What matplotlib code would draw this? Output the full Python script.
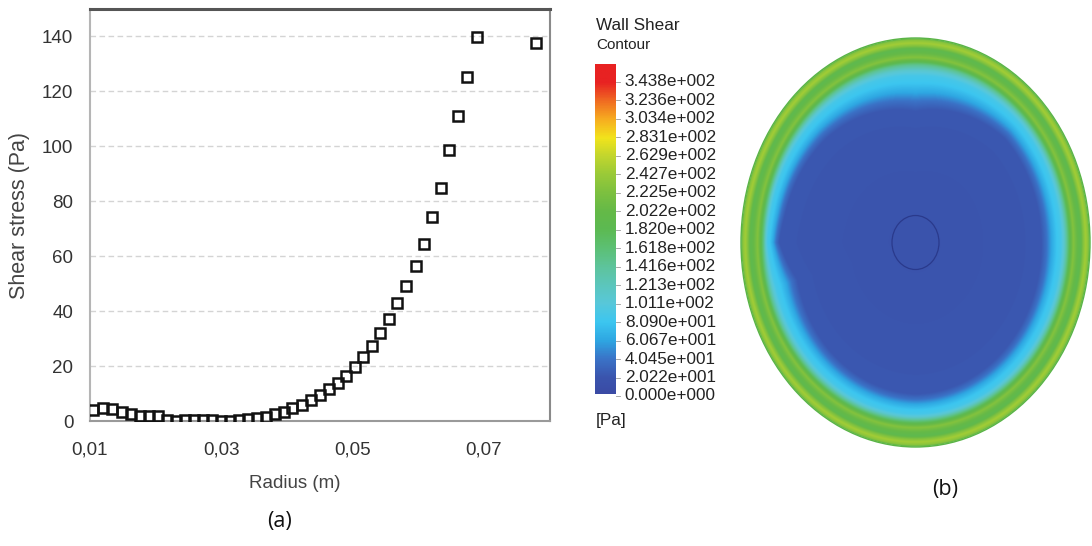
import numpy as np
import matplotlib
matplotlib.use("Agg")
import matplotlib.pyplot as plt
from matplotlib import font_manager
from matplotlib.colors import LinearSegmentedColormap
from matplotlib.patches import Ellipse

# ---------------- data: panel (a) ----------------
radius_m = [0.0105, 0.0120, 0.0133, 0.0149, 0.0163, 0.0177, 0.0190, 0.0204, 0.0218, 0.0232,
            0.0245, 0.0259, 0.0273, 0.0286, 0.0300, 0.0314, 0.0327, 0.0341, 0.0355, 0.0368,
            0.0382, 0.0396, 0.0409, 0.0423, 0.0437, 0.0451, 0.0464, 0.0478, 0.0491, 0.0505,
            0.0517, 0.0530, 0.0543, 0.0557, 0.0569, 0.0583, 0.0597, 0.0610, 0.0622, 0.0635,
            0.0648, 0.0662, 0.0676, 0.0690, 0.0780]
shear_pa = [4.0, 4.8, 4.5, 3.2, 2.4, 2.0, 2.0, 1.8, 0.5, 0.0,
            0.2, 0.2, 0.2, 0.2, 0.0, 0.0, 0.4, 0.8, 1.1, 1.6,
            2.4, 3.4, 4.6, 6.0, 7.7, 9.5, 11.5, 13.7, 16.4, 19.6,
            23.2, 27.3, 32.2, 37.0, 42.9, 49.2, 56.5, 64.5, 74.2, 84.8,
            98.7, 111.1, 125.4, 139.8, 137.8]
x_ticks = [0.01, 0.03, 0.05, 0.07]
x_tick_labels = ["0,01", "0,03", "0,05", "0,07"]
y_ticks = [0, 20, 40, 60, 80, 100, 120, 140]
x_label = "Radius (m)"
y_label = "Shear stress (Pa)"

# ---------------- data: panel (b) ----------------
cbar_title = "Wall Shear"
cbar_subtitle = "Contour"
cbar_unit = "[Pa]"
cbar_labels = ["3.438e+002", "3.236e+002", "3.034e+002", "2.831e+002", "2.629e+002",
               "2.427e+002", "2.225e+002", "2.022e+002", "1.820e+002", "1.618e+002",
               "1.416e+002", "1.213e+002", "1.011e+002", "8.090e+001", "6.067e+001",
               "4.045e+001", "2.022e+001", "0.000e+000"]
cbar_values = [float(s) for s in cbar_labels]

cmap_values = [0, 20, 40, 60, 80, 101, 121, 141, 162, 182, 202, 222, 243, 263, 283, 303, 324, 344]
cmap_colors = ["#3a4aa4", "#3b55ae", "#3a74c8", "#2ea6e2", "#3cc6f0", "#58c8da", "#5cc6bc",
               "#5ec49c", "#5cc074", "#5cba52", "#64b948", "#7cc040", "#9aca38", "#c2d62e",
               "#f2e41c", "#f7ae20", "#f06a22", "#e82222"]

# radial shear profile of the contour (normalised radius -> Pa) (b)
contour_s = [0.00, 0.62, 0.67, 0.72, 0.77, 0.81, 0.84, 0.87, 0.89, 0.905,
             0.925, 0.945, 0.96, 0.975, 0.99, 1.00]
contour_pa = [18, 22, 38, 62, 80, 88, 110, 150, 200, 228,
              205, 188, 225, 248, 230, 185]
# edge of the low-shear (blue) core vs polar angle
core_angle_deg = [0, 45, 90, 135, 170, 180, 195, 225, 270, 315, 360]
core_edge_rho = [0.72, 0.72, 0.64, 0.72, 0.76, 0.78, 0.70, 0.72, 0.74, 0.73, 0.72]

panel_labels = ["(a)", "(b)"]

# ---------------- fonts ----------------
names = {f.name for f in font_manager.fontManager.ttflist}
NARROW = "Liberation Sans Narrow" in names


def tfont(size):
    if NARROW:
        return dict(family="Liberation Sans Narrow", size=size * 1.18)
    return dict(family="Liberation Sans", size=size)


W, H = 1092, 546
fig = plt.figure(figsize=(W / 100, H / 100), dpi=100)


def px_axes(x0, y0, x1, y1):
    return fig.add_axes([x0 / W, 1 - y1 / H, (x1 - x0) / W, (y1 - y0) / H])


# ================= panel (a) =================
ax = px_axes(90, 9, 550, 421)
ax.plot(radius_m, shear_pa, ls="none", marker="s", mfc="none", mec="#111111",
        ms=7.4, mew=1.8, zorder=3)
ax.set_xlim(0.01, 0.0802)
ax.set_ylim(0, 150)
ax.set_xticks(x_ticks)
ax.set_xticklabels(x_tick_labels, **tfont(13.5), color="#333333")
ax.set_yticks(y_ticks)
ax.set_yticklabels([str(v) for v in y_ticks], **tfont(13.5), color="#333333")
ax.tick_params(axis="both", length=0)
ax.tick_params(axis="y", pad=12)
ax.tick_params(axis="x", pad=15)
ax.yaxis.grid(True, ls=(0, (4, 2.5)), color="#d4d4d4", lw=1.0)
ax.set_axisbelow(True)
ax.spines["top"].set_color("#555555")
ax.spines["top"].set_linewidth(2.2)
ax.spines["left"].set_color("#b5b5b5")
ax.spines["left"].set_linewidth(1.5)
ax.spines["right"].set_color("#8a8a8a")
ax.spines["right"].set_linewidth(1.5)
ax.spines["bottom"].set_color("#9a9a9a")
ax.spines["bottom"].set_linewidth(1.5)

fig.text(295 / W, 1 - 483 / H, x_label, ha="center", va="center", color="#444444", **tfont(13.5))
fig.text(20 / W, 1 - 216 / H, y_label, ha="center", va="center", rotation=90,
         color="#444444", family="Liberation Sans", size=15.5)
fig.text(280 / W, 1 - 522 / H, panel_labels[0], ha="center", va="center",
         family="Open Sans", size=15.5, color="#111111")
fig.text(945 / W, 1 - 490 / H, panel_labels[1], ha="center", va="center",
         family="Open Sans", size=15.5, color="#111111")

# ================= colour map =================
vmax = cbar_values[0]
cmap = LinearSegmentedColormap.from_list(
    "fluent", list(zip(np.array(cmap_values) / max(cmap_values), cmap_colors)))
cmap.set_bad((1, 1, 1, 0))

# ================= colour bar =================
lab_top_px, lab_bot_px = 81.7, 396.0
bar_top_px, bar_bot_px = 64.0, 394.0


def px_to_val(y):
    return (lab_bot_px - y) / (lab_bot_px - lab_top_px) * vmax


cb = px_axes(595, bar_top_px, 616, bar_bot_px)
vb, vt = px_to_val(bar_bot_px), px_to_val(bar_top_px)
grad = np.linspace(vb, vt, 400).reshape(-1, 1)
cb.imshow(grad, origin="lower", extent=[0, 1, vb, vt], aspect="auto",
          cmap=cmap, vmin=0, vmax=max(cmap_values))
cb.set_xlim(0, 1)
cb.set_ylim(vb, vt)
cb.set_xticks([])
cb.set_yticks([])
for s in cb.spines.values():
    s.set_visible(False)
tr = cb.get_yaxis_transform()
for lab, v in zip(cbar_labels, cbar_values):
    cb.text(1.42, v, lab, transform=tr, ha="left", va="center", clip_on=False,
            color="#222222", **tfont(12.3))
    cb.plot([1.0, 1.18], [v, v], transform=tr, clip_on=False, color="#9a9a9a", lw=0.6)
fig.text(596 / W, 1 - 26 / H, cbar_title, ha="left", va="center", color="#222222", **tfont(12.3))
fig.text(596 / W, 1 - 45 / H, cbar_subtitle, ha="left", va="center", color="#222222", **tfont(11))
fig.text(596 / W, 1 - 420 / H, cbar_unit, ha="left", va="center", color="#222222", **tfont(12.3))

# ================= contour disc =================
dx0, dy0, dx1, dy1 = 736, 33, 1092, 452
dax = px_axes(dx0, dy0, dx1, dy1)
cx, cy, rx, ry = 915.5, 242.5, 174.5, 204.5
xs = np.arange(dx0, dx1, 0.5) + 0.25
ys = np.arange(dy0, dy1, 0.5) + 0.25
X, Y = np.meshgrid(xs, ys)
u = (X - cx) / rx
v = -(Y - cy) / ry
rho = np.hypot(u, v)
theta = np.degrees(np.arctan2(v, u)) % 360
rt = np.interp(theta, core_angle_deg, core_edge_rho)
s = np.where(rho < rt, 0.62 * rho / rt,
             np.where(rho < 0.87, 0.62 + (rho - rt) / (0.87 - rt) * 0.25, rho))
field = np.interp(s, contour_s, contour_pa)
field = np.where(rho <= 1.0, field, np.nan)
dax.imshow(np.ma.masked_invalid(field), extent=[dx0, dx1, dy1, dy0], origin="upper",
           cmap=cmap, vmin=0, vmax=max(cmap_values), aspect="auto", interpolation="bilinear")
dax.add_patch(Ellipse((cx, cy), 2 * rx, 2 * ry, fill=False, ec="#5ab446", lw=1.0))
dax.add_patch(Ellipse((cx, cy), 47, 54, fill=False, ec="#2a3a8c", lw=0.9))
dax.set_xlim(dx0, dx1)
dax.set_ylim(dy1, dy0)
dax.axis("off")

fig.savefig("out.png", dpi=100)
